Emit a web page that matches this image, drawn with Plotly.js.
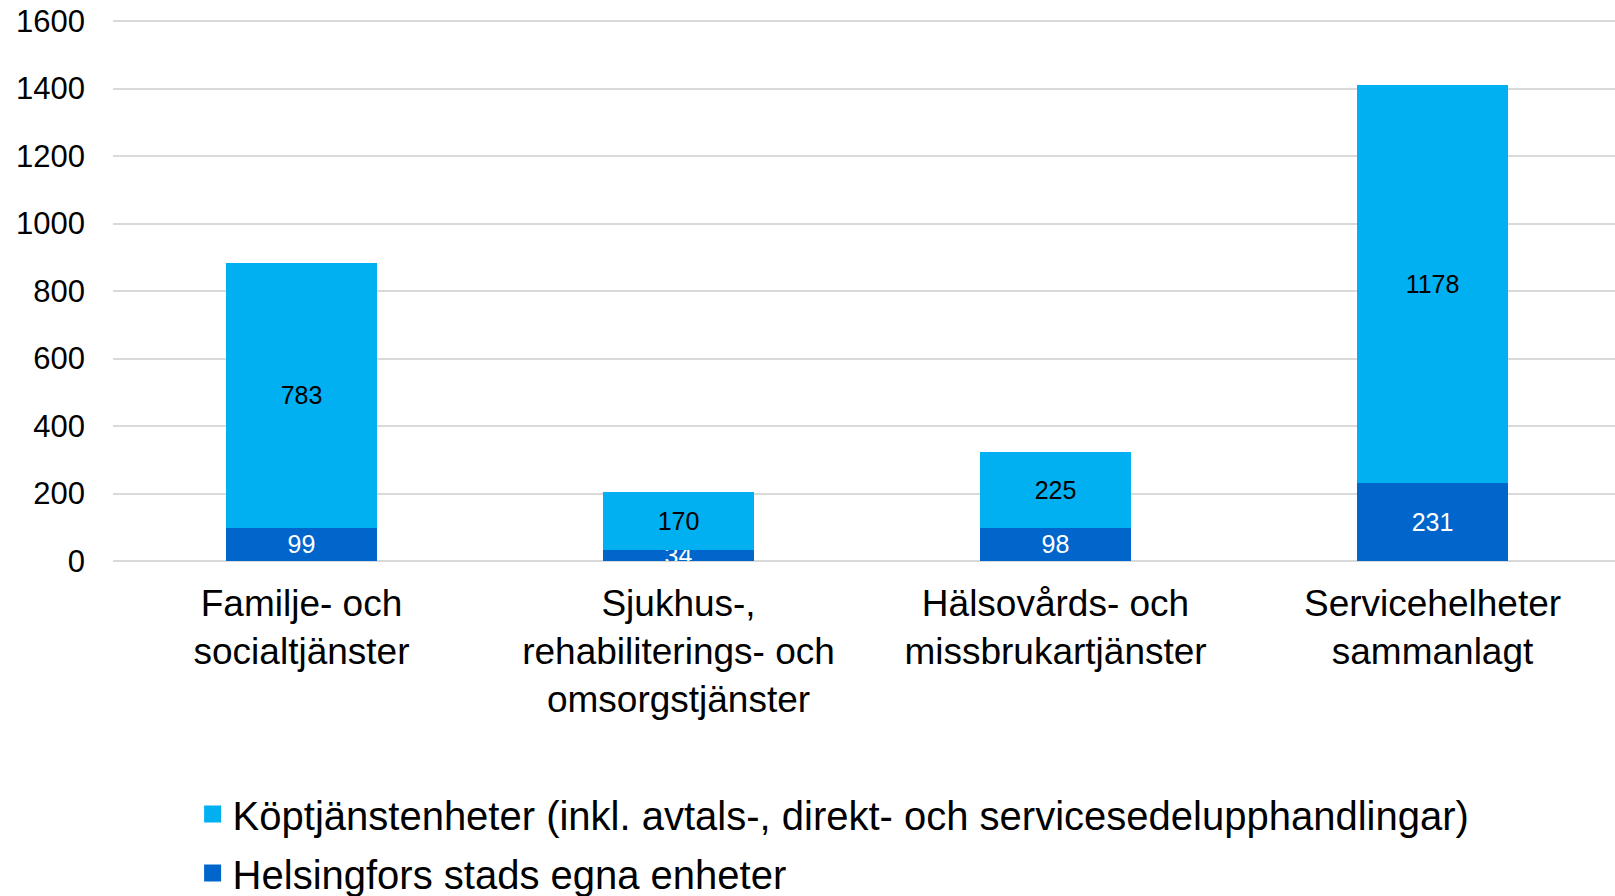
<!DOCTYPE html>
<html>
<head>
<meta charset="utf-8">
<script src="https://cdn.plot.ly/plotly-3.0.1.min.js"></script>
<style>html,body{margin:0;padding:0;background:#fff;}#chart{width:1615px;height:896px;}</style>
</head>
<body>
<div id="chart"></div>
<script>
const categories = [
  "Familje- och<br>socialtjänster",
  "Sjukhus-,<br>rehabiliterings- och<br>omsorgstjänster",
  "Hälsovårds- och<br>missbrukartjänster",
  "Servicehelheter<br>sammanlagt"
];
const ownUnits = [99, 34, 98, 231];
const purchased = [783, 170, 225, 1178];
const seriesNames = [
  "Helsingfors stads egna enheter",
  "Köptjänstenheter (inkl. avtals-, direkt- och servicesedelupphandlingar)"
];
const seriesColors = ["#0066CC", "#00B0F0"];
const yTicks = [0, 200, 400, 600, 800, 1000, 1200, 1400, 1600];

const font = "Liberation Sans, Arial, sans-serif";

function dataTrace(name, values, color, textColor) {
  return {
    type: "bar", name: name, x: categories, y: values, showlegend: false,
    marker: {color: color},
    text: values.map(String), textposition: "inside", insidetextanchor: "middle",
    textangle: 0, constraintext: "none",
    textfont: {family: font, size: 25, color: textColor},
    hoverinfo: "none"
  };
}
// legend-only entries (no drawn bars) so the legend swatch can be larger
function legendTrace(name, color, group) {
  return {
    type: "bar", name: name, x: [categories[0]], y: [null], legendgroup: group,
    marker: {color: color, line: {color: color, width: 5}},
    hoverinfo: "none"
  };
}

const traces = [
  dataTrace(seriesNames[0], ownUnits, seriesColors[0], "#FFFFFF"),
  dataTrace(seriesNames[1], purchased, seriesColors[1], "#000000"),
  legendTrace(seriesNames[1], seriesColors[1], "bought"),
  legendTrace(seriesNames[0], seriesColors[0], "own")
];

const layout = {
  width: 1615, height: 896,
  margin: {l: 113, r: 0, t: 19, b: 335, autoexpand: false},
  paper_bgcolor: "#fff", plot_bgcolor: "#fff",
  barmode: "stack", bargap: 0.6,
  font: {family: font, color: "#000"},
  xaxis: {
    type: "category", range: [-0.5, 3.484],
    showgrid: false, zeroline: false, showline: false,
    tickfont: {family: font, size: 37, color: "#000"}, ticks: "", ticklabelstandoff: 17
  },
  yaxis: {
    range: [0, 1606], tickvals: yTicks, ticktext: yTicks.map(String),
    showgrid: true, gridcolor: "#D9D9D9", gridwidth: 2,
    zeroline: true, zerolinecolor: "#D9D9D9", zerolinewidth: 2,
    showline: false, ticks: "", ticklabelstandoff: 27,
    tickfont: {family: font, size: 31, color: "#000"}
  },
  showlegend: true,
  legend: {
    orientation: "v", traceorder: "grouped", tracegroupgap: 4,
    x: 0.053, xanchor: "left", y: -0.407, yanchor: "top",
    font: {family: font, size: 40, color: "#000"},
    bgcolor: "rgba(0,0,0,0)", itemclick: false
  }
};

Plotly.newPlot("chart", traces, layout, {displayModeBar: false, staticPlot: true});
</script>
</body>
</html>
